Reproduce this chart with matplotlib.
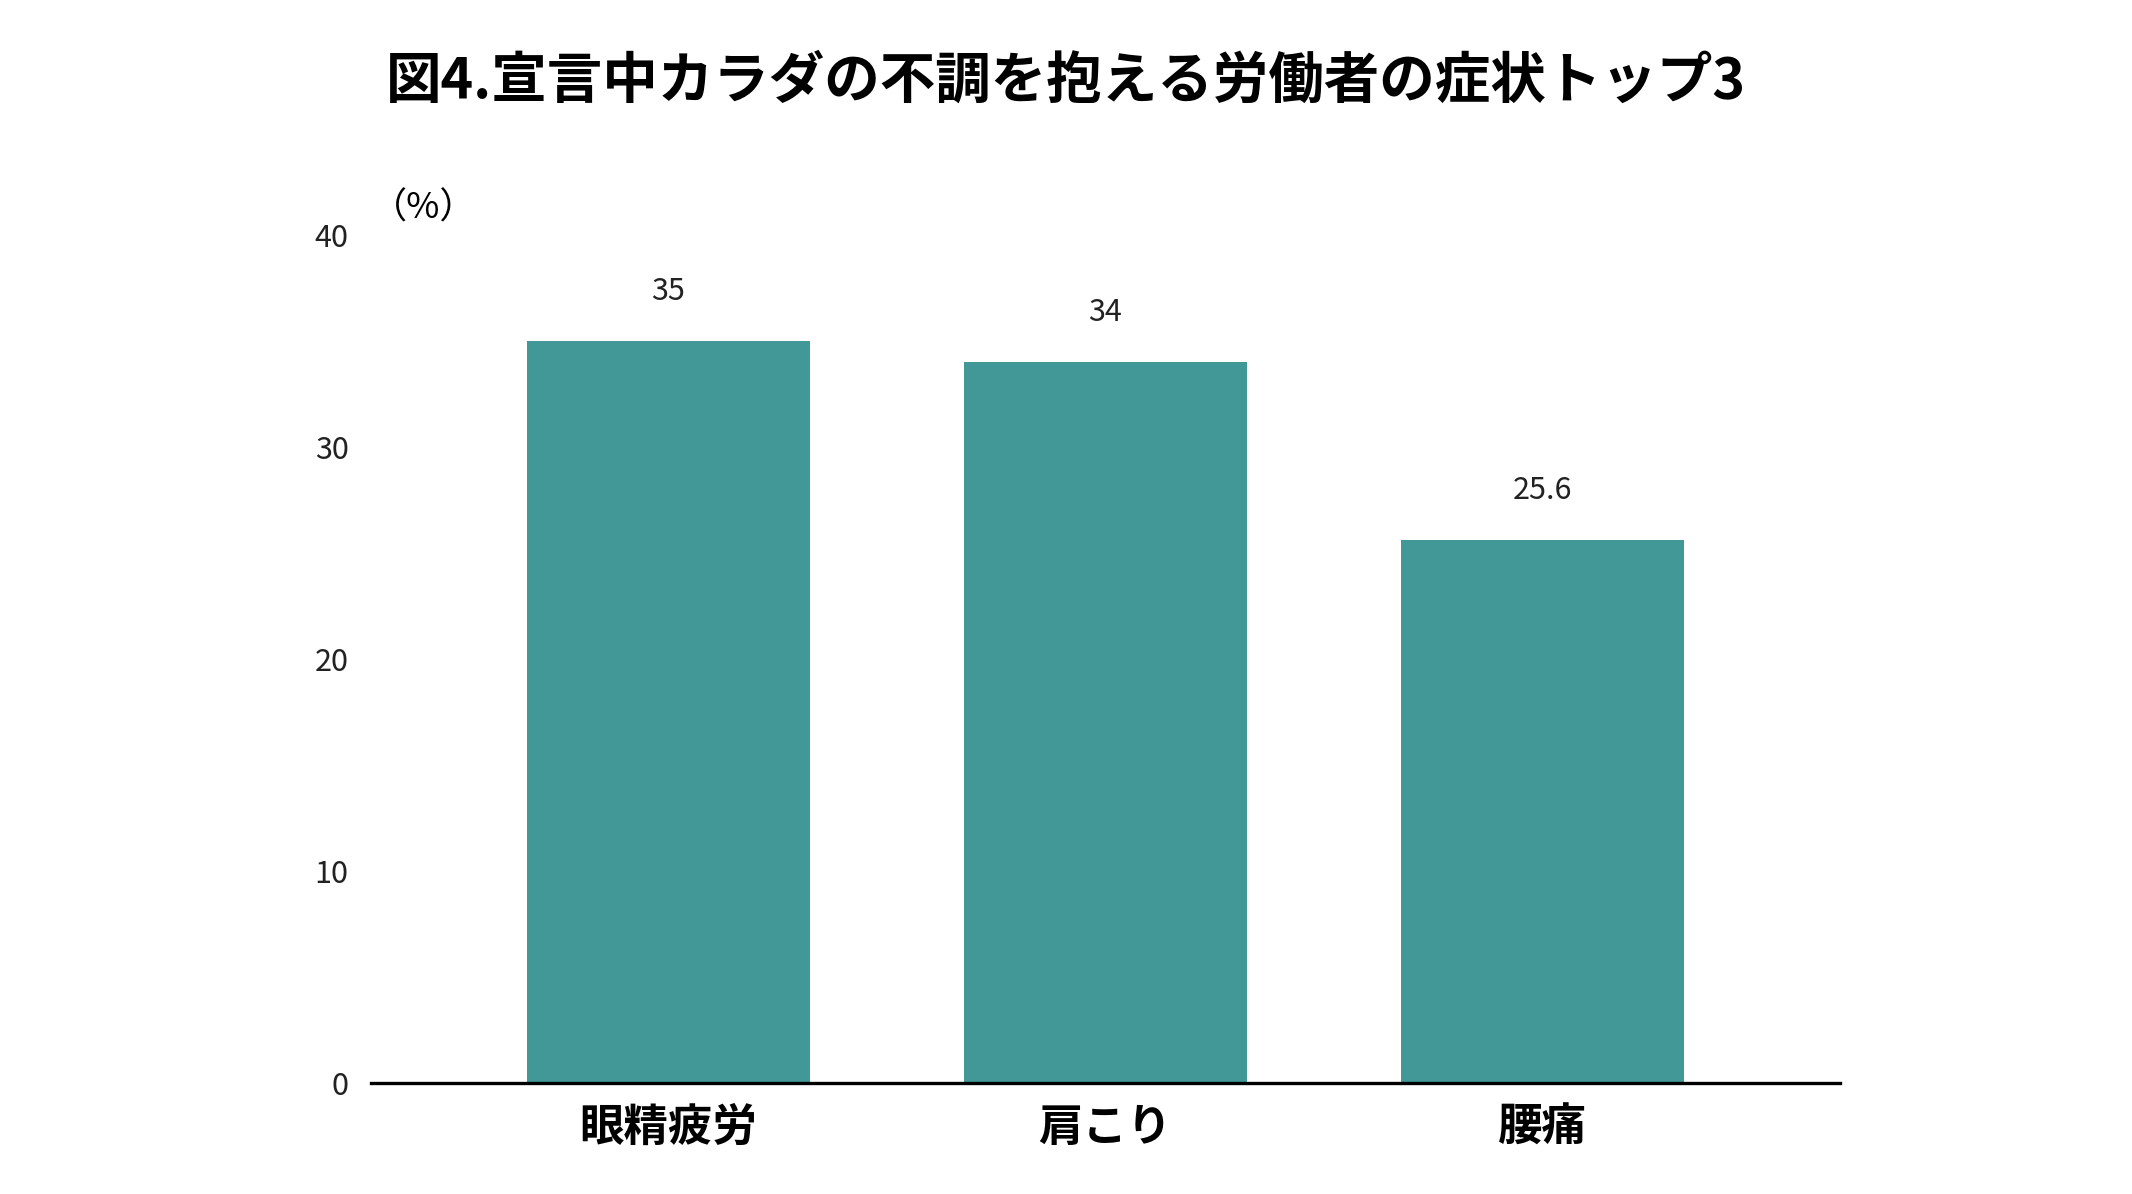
import matplotlib
matplotlib.use("Agg")
import matplotlib.pyplot as plt

plt.rcParams['font.family'] = ['Noto Sans CJK JP', 'DejaVu Sans']

categories = ["眼精疲労", "肩こり", "腰痛"]
values = [35, 34, 25.6]
labels = ["35", "34", "25.6"]
yticks = [0, 10, 20, 30, 40]

fig = plt.figure(figsize=(10.66, 5.97), dpi=200)
ax = fig.add_axes([0.174, 0.093, 0.689, 0.71])
x = list(range(len(categories)))
ax.bar(x, values, width=0.648, color="#429797")
for xi, v, l in zip(x, values, labels):
    ax.text(xi, v + 1.6, l, ha="center", va="bottom", fontsize=11, color="#222222")
ax.set_xlim(-0.68, 2.68)
ax.set_ylim(0, 40)
ax.set_yticks(yticks)
ax.set_yticklabels([str(t) for t in yticks], fontsize=11, color="#222222")
ax.set_xticks(x)
ax.set_xticklabels(categories, fontsize=16, fontweight="bold")
for s in ["top", "right", "left"]:
    ax.spines[s].set_visible(False)
ax.spines["bottom"].set_linewidth(1.2)
ax.tick_params(axis="y", length=0, pad=8)
ax.tick_params(axis="x", length=0, pad=8)
ax.text(0.0, 1.01, "（%）", transform=ax.transAxes, fontsize=13, ha="left", va="bottom")
fig.text(0.5, 0.932, "図4.宣言中カラダの不調を抱える労働者の症状トップ3", ha="center", va="center",
         fontsize=20, fontweight="bold")
fig.savefig("out.png", dpi=200, facecolor="white")
